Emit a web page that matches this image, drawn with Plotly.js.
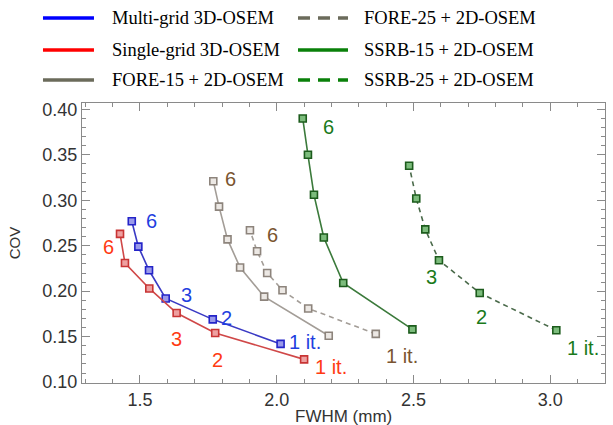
<!DOCTYPE html>
<html>
<head>
<meta charset="utf-8">
<script src="https://cdn.plot.ly/plotly-3.0.1.min.js"></script>
<style>html,body{margin:0;padding:0;background:#fff}#chart{width:613px;height:425px}</style>
</head>
<body>
<div id="chart"></div>
<script>
// FWHM (mm) and COV values per iteration (1 it. ... 6 it.)
const multiX  = [2.014, 1.766, 1.594, 1.533, 1.494, 1.470];
const multiY  = [0.142, 0.169, 0.192, 0.223, 0.249, 0.277];
const singleX = [2.100, 1.775, 1.634, 1.534, 1.445, 1.427];
const singleY = [0.125, 0.154, 0.176, 0.203, 0.231, 0.263];
const fore15X = [2.190, 1.954, 1.866, 1.820, 1.789, 1.768];
const fore15Y = [0.151, 0.194, 0.226, 0.257, 0.293, 0.321];
const fore25X = [2.362, 2.115, 2.021, 1.965, 1.928, 1.902];
const fore25Y = [0.153, 0.181, 0.201, 0.220, 0.244, 0.267];
const ssrb15X = [2.496, 2.243, 2.172, 2.136, 2.114, 2.095];
const ssrb15Y = [0.158, 0.209, 0.259, 0.306, 0.350, 0.390];
const ssrb25X = [3.022, 2.742, 2.593, 2.543, 2.510, 2.484];
const ssrb25Y = [0.157, 0.198, 0.234, 0.268, 0.302, 0.338];

const seriesNames = ["Multi-grid 3D-OSEM", "Single-grid 3D-OSEM", "FORE-15 + 2D-OSEM",
                     "FORE-25 + 2D-OSEM", "SSRB-15 + 2D-OSEM", "SSRB-25 + 2D-OSEM"];

// iteration labels
const labelText = ["6", "3", "2", "1 it.", "6", "3", "2", "1 it.", "6", "6", "1 it.", "6", "3", "2", "1 it."];
const labelX = [1.543, 1.671, 1.817, 2.103, 1.384, 1.634, 1.782, 2.200, 1.832, 1.983, 2.459, 2.188, 2.565, 2.748, 3.119];
const labelY = [0.277, 0.196, 0.170, 0.144, 0.249, 0.147, 0.124, 0.117, 0.323, 0.262, 0.129, 0.381, 0.216, 0.172, 0.137];
const labelGroup = ["blue","blue","blue","blue","red","red","red","red","brown","brown","brown","green","green","green","green"];

const labelColors = {blue: "#1f3fe0", red: "#ff3a12", brown: "#7a5530", green: "#1a7a1a"};

function tr(x, y, name, lineColor, mLine, mFill, dash) {
  return {
    x: x, y: y, name: name, type: "scatter", mode: "lines+markers",
    line: {color: lineColor, width: 1.6, dash: dash || "solid"},
    marker: {symbol: "square", size: 7, color: mFill, line: {color: mLine, width: 1.6}},
    showlegend: false, hoverinfo: "skip"
  };
}

const data = [
  tr(multiX, multiY, seriesNames[0], "#3a3ac4", "#2424c8", "#9a9aea"),
  tr(singleX, singleY, seriesNames[1], "#d04848", "#c83434", "#eea0a0"),
  tr(fore15X, fore15Y, seriesNames[2], "#a39d97", "#8d847c", "#ece8e4"),
  tr(fore25X, fore25Y, seriesNames[3], "#a39d97", "#8d847c", "#ece8e4", "5px,4px"),
  tr(ssrb15X, ssrb15Y, seriesNames[4], "#3b7a3b", "#1d5c1d", "#7cbc7c"),
  tr(ssrb25X, ssrb25Y, seriesNames[5], "#4a6a4a", "#1d5c1d", "#7cbc7c", "5px,4px")
];

const annotations = labelText.map((t, i) => ({
  x: labelX[i], y: labelY[i], xref: "x", yref: "y", text: t, showarrow: false,
  xanchor: "center", yanchor: "middle",
  font: {family: "Liberation Sans, Arial, sans-serif", size: 20, color: labelColors[labelGroup[i]]}
}));

// x-axis title placed as paper annotation
annotations.push({xref: "paper", yref: "paper", x: 0.5, y: -0.121, xanchor: "center", yanchor: "middle",
  showarrow: false, text: "FWHM (mm)",
  font: {family: "Liberation Sans, Arial, sans-serif", size: 17, color: "#333"}});

// manual legend (two columns)
const legColors = ["#0000ff", "#ff0000", "#6b6b5b", "#6b6b5b", "#0a800a", "#0a800a"];
const legDash = ["solid", "solid", "solid", "dash", "solid", "dash"];
const rowY = [1.304, 1.189, 1.082];
const shapes = [];
seriesNames.forEach((n, i) => {
  const col = i < 3 ? 0 : 1;
  const row = i % 3;
  const x0 = col === 0 ? -0.0746 : 0.413;
  const x1 = col === 0 ? 0.0229 : 0.5086;
  shapes.push({type: "line", xref: "paper", yref: "paper", x0: x0, x1: x1, y0: rowY[row], y1: rowY[row],
    line: {color: legColors[i], width: 3.5, dash: legDash[i] === "dash" ? "12px,8px" : "solid"}});
  annotations.push({xref: "paper", yref: "paper", x: col === 0 ? 0.0535 : 0.535, y: rowY[row],
    xanchor: "left", yanchor: "middle", showarrow: false, text: n,
    font: {family: "Liberation Serif, Times New Roman, serif", size: 18.5, color: "#000"}});
});

const axisCommon = {
  showline: true, linecolor: "#8a8a8a", linewidth: 1.2, mirror: "ticks",
  ticks: "inside", ticklen: 8, tickcolor: "#8a8a8a", tickwidth: 1,
  showgrid: false, zeroline: false,
  tickfont: {family: "Liberation Sans, Arial, sans-serif", size: 18, color: "#333"}
};

const layout = {
  width: 613, height: 425,
  margin: {l: 82, r: 8, t: 103, b: 42},
  paper_bgcolor: "#fff", plot_bgcolor: "#fff",
  showlegend: false,
  xaxis: Object.assign({}, axisCommon, {
    range: [1.288, 3.2], tickvals: [1.5, 2.0, 2.5, 3.0], ticktext: ["1.5", "2.0", "2.5", "3.0"],
    minor: {dtick: 0.1, tick0: 1.0, ticks: "inside", ticklen: 4, tickcolor: "#8a8a8a", showgrid: false}
  }),
  yaxis: Object.assign({}, axisCommon, {
    range: [0.099, 0.407], tickvals: [0.10, 0.15, 0.20, 0.25, 0.30, 0.35, 0.40],
    ticktext: ["0.10", "0.15", "0.20", "0.25", "0.30", "0.35", "0.40"],
    minor: {dtick: 0.01, tick0: 0.0, ticks: "inside", ticklen: 4, tickcolor: "#8a8a8a", showgrid: false},
    title: {text: "COV", standoff: 18, font: {family: "Liberation Sans, Arial, sans-serif", size: 15, color: "#333"}}
  }),
  shapes: shapes,
  annotations: annotations
};

Plotly.newPlot("chart", data, layout, {staticPlot: true, displayModeBar: false});
</script>
</body>
</html>
